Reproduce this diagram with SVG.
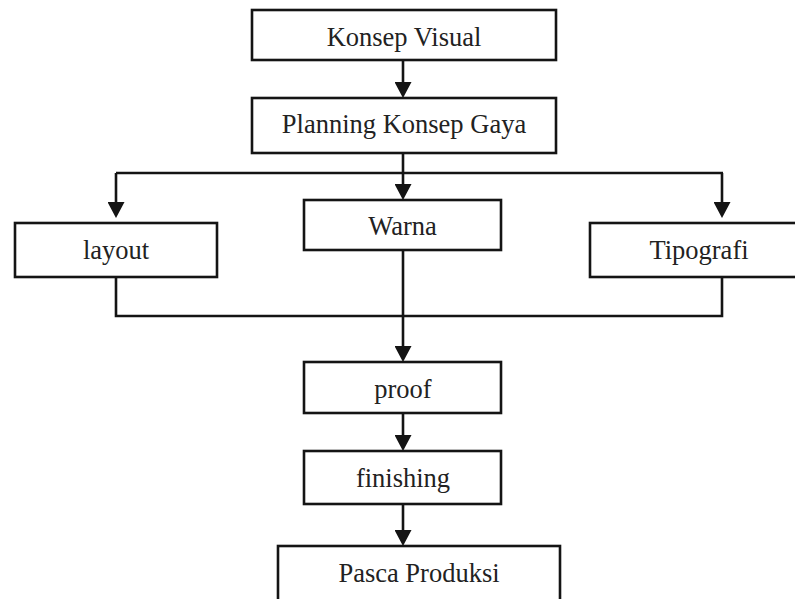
<svg xmlns="http://www.w3.org/2000/svg" width="795" height="599" viewBox="0 0 795 599">
<defs>
<style>
.box{fill:#fff;stroke:#141414;stroke-width:2.6}
.lbl{font-family:"Liberation Serif","Times New Roman",serif;font-size:26.5px;fill:#222;text-anchor:middle}
.ln{fill:none;stroke:#141414;stroke-width:2.6}
</style>
<marker id="ah" viewBox="0 0 16 17" refX="10" refY="8.5" markerWidth="16" markerHeight="17" markerUnits="userSpaceOnUse" orient="auto">
<path d="M0,0 L16,8.5 L0,17 z" fill="#141414"/>
</marker>
</defs>
<rect width="795" height="599" fill="#fff"/>
<g id="connectors">
<line class="ln" x1="403" y1="60" x2="403" y2="92" marker-end="url(#ah)"/>
<line class="ln" x1="403" y1="153" x2="403" y2="194" marker-end="url(#ah)"/>
<polyline class="ln" points="116,173 723,173"/>
<line class="ln" x1="116" y1="173" x2="116" y2="212" marker-end="url(#ah)"/>
<line class="ln" x1="722" y1="173" x2="722" y2="212" marker-end="url(#ah)"/>
<polyline class="ln" points="116,277 116,316 722,316 722,277"/>
<line class="ln" x1="403" y1="250" x2="403" y2="356" marker-end="url(#ah)"/>
<line class="ln" x1="403" y1="413" x2="403" y2="445" marker-end="url(#ah)"/>
<line class="ln" x1="403" y1="504" x2="403" y2="540" marker-end="url(#ah)"/>
</g>
<g id="konsep-visual">
<rect class="box" x="252" y="10" width="304" height="50"/>
<text class="lbl" x="404" y="46">Konsep Visual</text>
</g>
<g id="planning">
<rect class="box" x="252" y="98" width="304" height="55"/>
<text class="lbl" x="404" y="133">Planning Konsep Gaya</text>
</g>
<g id="layout">
<rect class="box" x="15" y="223" width="202" height="54"/>
<text class="lbl" x="116" y="259">layout</text>
</g>
<g id="warna">
<rect class="box" x="304" y="200" width="197" height="50"/>
<text class="lbl" x="402.5" y="235">Warna</text>
</g>
<g id="tipografi">
<rect class="box" x="590" y="223" width="218" height="54"/>
<text class="lbl" x="699" y="259">Tipografi</text>
</g>
<g id="proof">
<rect class="box" x="304" y="362" width="197" height="51"/>
<text class="lbl" x="403" y="398">proof</text>
</g>
<g id="finishing">
<rect class="box" x="304" y="451" width="197" height="53"/>
<text class="lbl" x="403" y="487">finishing</text>
</g>
<g id="pasca-produksi">
<rect class="box" x="278" y="546" width="282" height="70"/>
<text class="lbl" x="419" y="582">Pasca Produksi</text>
</g>
</svg>
